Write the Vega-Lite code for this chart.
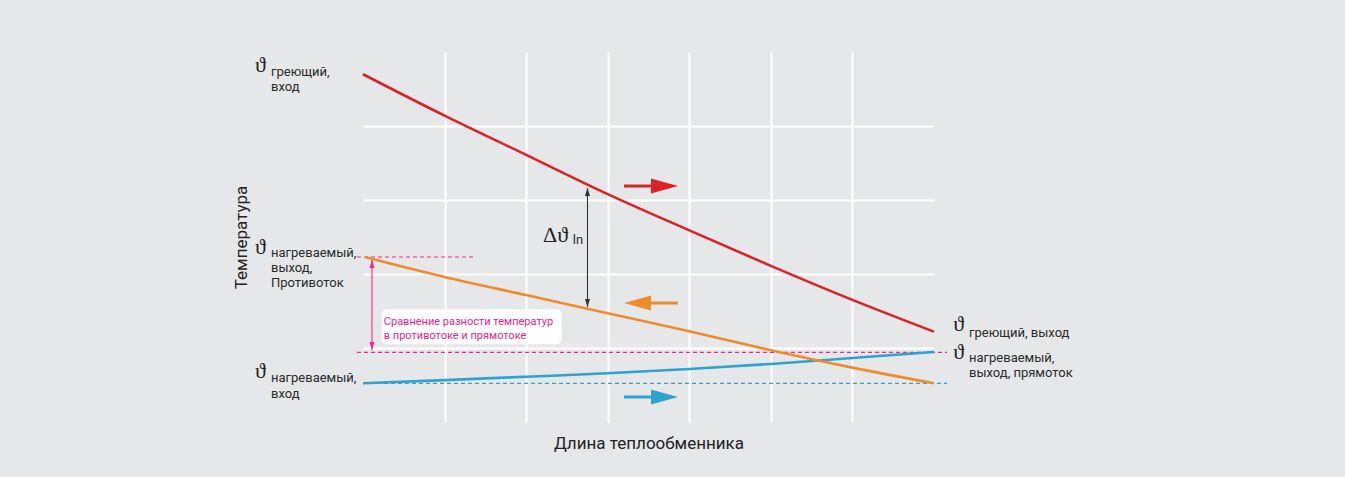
{
  "$schema": "https://vega.github.io/schema/vega-lite/v6.json",
  "width": 571,
  "height": 370,
  "autosize": {"type": "none"},
  "padding": {"left": 363, "top": 52, "right": 411, "bottom": 55},
  "background": "#e6e7e9",
  "config": {
    "view": {"stroke": null},
    "text": {"font": "Roboto"}
  },
  "datasets": {
    "curves": [
      {"s": "hot", "x": 0, "y": 4.70},
      {"s": "hot", "x": 1, "y": 4.14},
      {"s": "hot", "x": 2, "y": 3.61},
      {"s": "hot", "x": 3, "y": 3.08},
      {"s": "hot", "x": 4, "y": 2.59},
      {"s": "hot", "x": 5, "y": 2.11},
      {"s": "hot", "x": 6, "y": 1.65},
      {"s": "hot", "x": 7, "y": 1.22},
      {"s": "parallel", "x": 0, "y": 0.523},
      {"s": "parallel", "x": 1, "y": 0.566},
      {"s": "parallel", "x": 2, "y": 0.612},
      {"s": "parallel", "x": 3, "y": 0.658},
      {"s": "parallel", "x": 4, "y": 0.716},
      {"s": "parallel", "x": 5, "y": 0.784},
      {"s": "parallel", "x": 6, "y": 0.865},
      {"s": "parallel", "x": 7, "y": 0.946},
      {"s": "counter", "x": 0.03, "y": 2.226},
      {"s": "counter", "x": 1, "y": 1.96},
      {"s": "counter", "x": 2, "y": 1.715},
      {"s": "counter", "x": 3, "y": 1.47},
      {"s": "counter", "x": 4, "y": 1.225},
      {"s": "counter", "x": 5, "y": 0.97},
      {"s": "counter", "x": 6, "y": 0.735},
      {"s": "counter", "x": 7, "y": 0.523}
    ],
    "dashed": [
      {"s": "pink", "id": "a", "x": -0.074, "y": 2.23},
      {"s": "pink", "id": "a", "x": 1.349, "y": 2.23},
      {"s": "pink", "id": "b", "x": -0.074, "y": 0.94},
      {"s": "pink", "id": "b", "x": 7.16, "y": 0.94},
      {"s": "parallel", "id": "c", "x": 0, "y": 0.523},
      {"s": "parallel", "id": "c", "x": 7.16, "y": 0.523}
    ],
    "shafts": [
      {"s": "hot", "x": 3.2, "x2": 3.58, "y": 3.189},
      {"s": "counter", "x": 3.49, "x2": 3.862, "y": 1.608},
      {"s": "parallel", "x": 3.2, "x2": 3.58, "y": 0.338}
    ],
    "heads": [
      {"s": "hot", "x": 3.696, "y": 3.189, "dir": "right"},
      {"s": "counter", "x": 3.365, "y": 1.608, "dir": "left"},
      {"s": "parallel", "x": 3.696, "y": 0.338, "dir": "right"}
    ],
    "measures": [
      {"s": "black", "x": 2.752, "y": 3.162, "y2": 1.554},
      {"s": "pink", "x": 0.11, "y": 2.189, "y2": 0.973}
    ],
    "tips": [
      {"s": "black", "x": 2.752, "y": 3.162, "dir": "up"},
      {"s": "black", "x": 2.752, "y": 1.554, "dir": "down"},
      {"s": "pink", "x": 0.11, "y": 2.189, "dir": "up"},
      {"s": "pink", "x": 0.11, "y": 0.973, "dir": "down"}
    ],
    "notebox": [
      {"x": 0.229, "x2": 2.434, "y": 1.523, "y2": 1.05}
    ],
    "notetext": [
      {"x": 0.255, "y": 1.315, "t": "Сравнение разности температур"},
      {"x": 0.255, "y": 1.118, "t": "в противотоке и прямотоке"}
    ],
    "symbols": [
      {"x": -1.324, "y": 4.723, "t": "ϑ"},
      {"x": -1.324, "y": 2.264, "t": "ϑ"},
      {"x": -1.324, "y": 0.595, "t": "ϑ"},
      {"x": 7.237, "y": 1.223, "t": "ϑ"},
      {"x": 7.237, "y": 0.845, "t": "ϑ"},
      {"x": 2.207, "y": 2.437, "t": "Δϑ"}
    ],
    "labels": [
      {"x": -1.128, "y": 4.676, "t": "греющий,"},
      {"x": -1.128, "y": 4.473, "t": "вход"},
      {"x": -1.128, "y": 2.234, "t": "нагреваемый,"},
      {"x": -1.128, "y": 2.023, "t": "выход,"},
      {"x": -1.128, "y": 1.820, "t": "Противоток"},
      {"x": -1.128, "y": 0.536, "t": "нагреваемый,"},
      {"x": -1.128, "y": 0.320, "t": "вход"},
      {"x": 7.429, "y": 1.153, "t": "греющий, выход"},
      {"x": 7.429, "y": 0.815, "t": "нагреваемый,"},
      {"x": 7.429, "y": 0.612, "t": "выход, прямоток"},
      {"x": 2.571, "y": 2.405, "t": "ln"}
    ]
  },
  "encoding": {
    "x": {
      "field": "x", "type": "quantitative",
      "scale": {"domain": [0, 7], "nice": false, "zero": false},
      "axis": {
        "values": [1, 2, 3, 4, 5, 6], "grid": true, "gridColor": "#ffffff", "gridWidth": 2, "gridOpacity": 1,
        "domain": false, "ticks": false, "labels": false,
        "title": "Длина теплообменника", "titleFont": "Roboto", "titleFontSize": 17, "titleFontWeight": "normal",
        "titleColor": "#222222", "titleBaseline": "alphabetic", "titleY": 26
      }
    },
    "y": {
      "field": "y", "type": "quantitative",
      "scale": {"domain": [0, 5], "nice": false, "zero": false},
      "axis": {
        "values": [1, 2, 3, 4], "grid": true, "gridColor": "#ffffff", "gridWidth": 2, "gridOpacity": 1,
        "domain": false, "ticks": false, "labels": false,
        "title": "Температура", "titleFont": "Roboto", "titleFontSize": 17, "titleFontWeight": "normal",
        "titleColor": "#222222", "titleBaseline": "alphabetic", "titleX": -117, "titleY": 185, "titleAngle": 270
      }
    },
    "color": {
      "field": "s", "type": "nominal", "legend": null,
      "scale": {
        "domain": ["hot", "counter", "parallel", "pink", "black"],
        "range": ["#d8232a", "#ee8c2c", "#2fa2cf", "#ec2a8b", "#333333"]
      }
    }
  },
  "layer": [
    {
      "data": {"name": "notebox"},
      "mark": {"type": "rect", "fill": "#ffffff", "cornerRadius": 5},
      "encoding": {"x2": {"field": "x2"}, "y2": {"field": "y2"}, "color": {"value": "#ffffff"}}
    },
    {
      "data": {"name": "dashed"},
      "mark": {"type": "line", "strokeWidth": 1.2, "strokeDash": [4, 3]},
      "encoding": {"detail": {"field": "id"}}
    },
    {
      "data": {"name": "curves"},
      "mark": {"type": "line", "strokeWidth": 2.6, "interpolate": "monotone"},
      "encoding": {"detail": {"field": "s"}}
    },
    {
      "data": {"name": "shafts"},
      "mark": {"type": "rule", "strokeWidth": 3},
      "encoding": {"x2": {"field": "x2"}}
    },
    {
      "data": {"name": "heads"},
      "mark": {"type": "point", "filled": true, "opacity": 1, "size": 729},
      "encoding": {
        "shape": {
          "field": "dir", "type": "nominal", "legend": null,
          "scale": {
            "domain": ["right", "left", "up", "down"],
            "range": ["M-1,-0.55L1,0L-1,0.55Z", "M1,-0.55L-1,0L1,0.55Z", "M0,0L-0.32,1L0.32,1Z", "M0,0L-0.32,-1L0.32,-1Z"]
          }
        }
      }
    },
    {
      "data": {"name": "measures"},
      "mark": {"type": "rule", "strokeWidth": 1.1},
      "encoding": {"y2": {"field": "y2"}}
    },
    {
      "data": {"name": "tips"},
      "mark": {"type": "point", "filled": true, "opacity": 1, "size": 256},
      "encoding": {
        "shape": {"field": "dir", "type": "nominal", "legend": null}
      }
    },
    {
      "data": {"name": "notetext"},
      "mark": {"type": "text", "align": "left", "baseline": "alphabetic", "fontSize": 11, "font": "Roboto", "fill": "#e6258a"},
      "encoding": {"text": {"field": "t"}, "color": {"value": "#e6258a"}}
    },
    {
      "data": {"name": "symbols"},
      "mark": {"type": "text", "align": "left", "baseline": "alphabetic", "fontSize": 22, "font": "Liberation Serif, DejaVu Serif"},
      "encoding": {"text": {"field": "t"}, "color": {"value": "#222222"}}
    },
    {
      "data": {"name": "labels"},
      "mark": {"type": "text", "align": "left", "baseline": "alphabetic", "fontSize": 13, "font": "Roboto"},
      "encoding": {"text": {"field": "t"}, "color": {"value": "#2a2a2a"}}
    }
  ]
}
